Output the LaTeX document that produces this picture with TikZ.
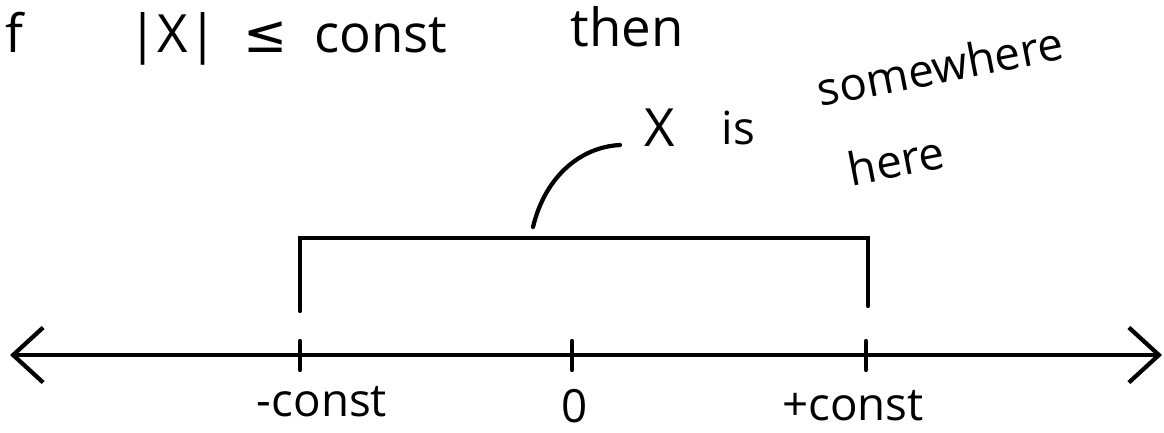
\documentclass[tikz,border=0pt]{standalone}
\usepackage{fontspec}
\setmainfont{Open Sans}
\newfontfamily\symfont{DejaVu Sans}
\usetikzlibrary{arrows.meta,positioning}

\begin{document}
\begin{tikzpicture}[
		pen/.style={line width=1.2pt, black, line cap=round},
		bigtxt/.style={inner sep=0pt, font=\fontsize{15}{18}\selectfont},
		smalltxt/.style={inner sep=0pt, font=\fontsize{13}{16}\selectfont},
		barb/.tip={Straight Barb[length=3mm, width=5.5mm, line width=1.2pt]}
	]
		\useasboundingbox (0,0) rectangle (11.64,4.32);

		% top line
		\node [bigtxt, anchor=base west] (iftxt) at (0.05,3.80) {f};
		\node [bigtxt, anchor=base west] (cond) at (1.28,3.80) {|X|\enspace{\symfont ≤}\enspace const};
		\node [bigtxt, anchor=base west] (then) at (5.70,3.86) {then};

		% number line
		\coordinate (lend) at (0.1,0.77);
		\coordinate (rend) at (11.62,0.77);
		\draw [pen, barb-barb] (lend) -- (rend);

		\coordinate (mtick) at (3.0,0.77);
		\coordinate (ztick) at (5.72,0.77);
		\coordinate (ptick) at (8.66,0.77);
		\foreach \t in {mtick,ztick,ptick}
			\draw [pen] ([yshift=-0.15cm]\t) -- ([yshift=0.14cm]\t);

		\node [smalltxt] (mlab) at (3.22,0.30) {-const};
		\node [smalltxt] (zlab) at (5.75,0.26) {0};
		\node [smalltxt] (plab) at (8.53,0.26) {+const};

		% bracket
		\coordinate (bl) at (3.0,1.21);
		\coordinate (br) at (8.68,1.26);
		\draw [pen] (bl) -- (bl |- 0,1.94) -- (br |- 0,1.94) -- (br);

		% label
		\node [bigtxt] (xvar) at (6.60,3.04) {X};
		\node [smalltxt, right=0.45cm of xvar] (is) {is};
		\node [smalltxt, rotate=11] (where) at (9.40,3.66) {somewhere};
		\node [smalltxt, rotate=11] (here) at (8.96,2.72) {here};

		\coordinate (brtop) at (5.33,2.05);
		\coordinate (xlead) at (6.2,2.87);
		\draw [pen] (brtop) .. controls (5.45,2.55) and (5.8,2.85) .. (xlead);

		\end{tikzpicture}
\end{document}
